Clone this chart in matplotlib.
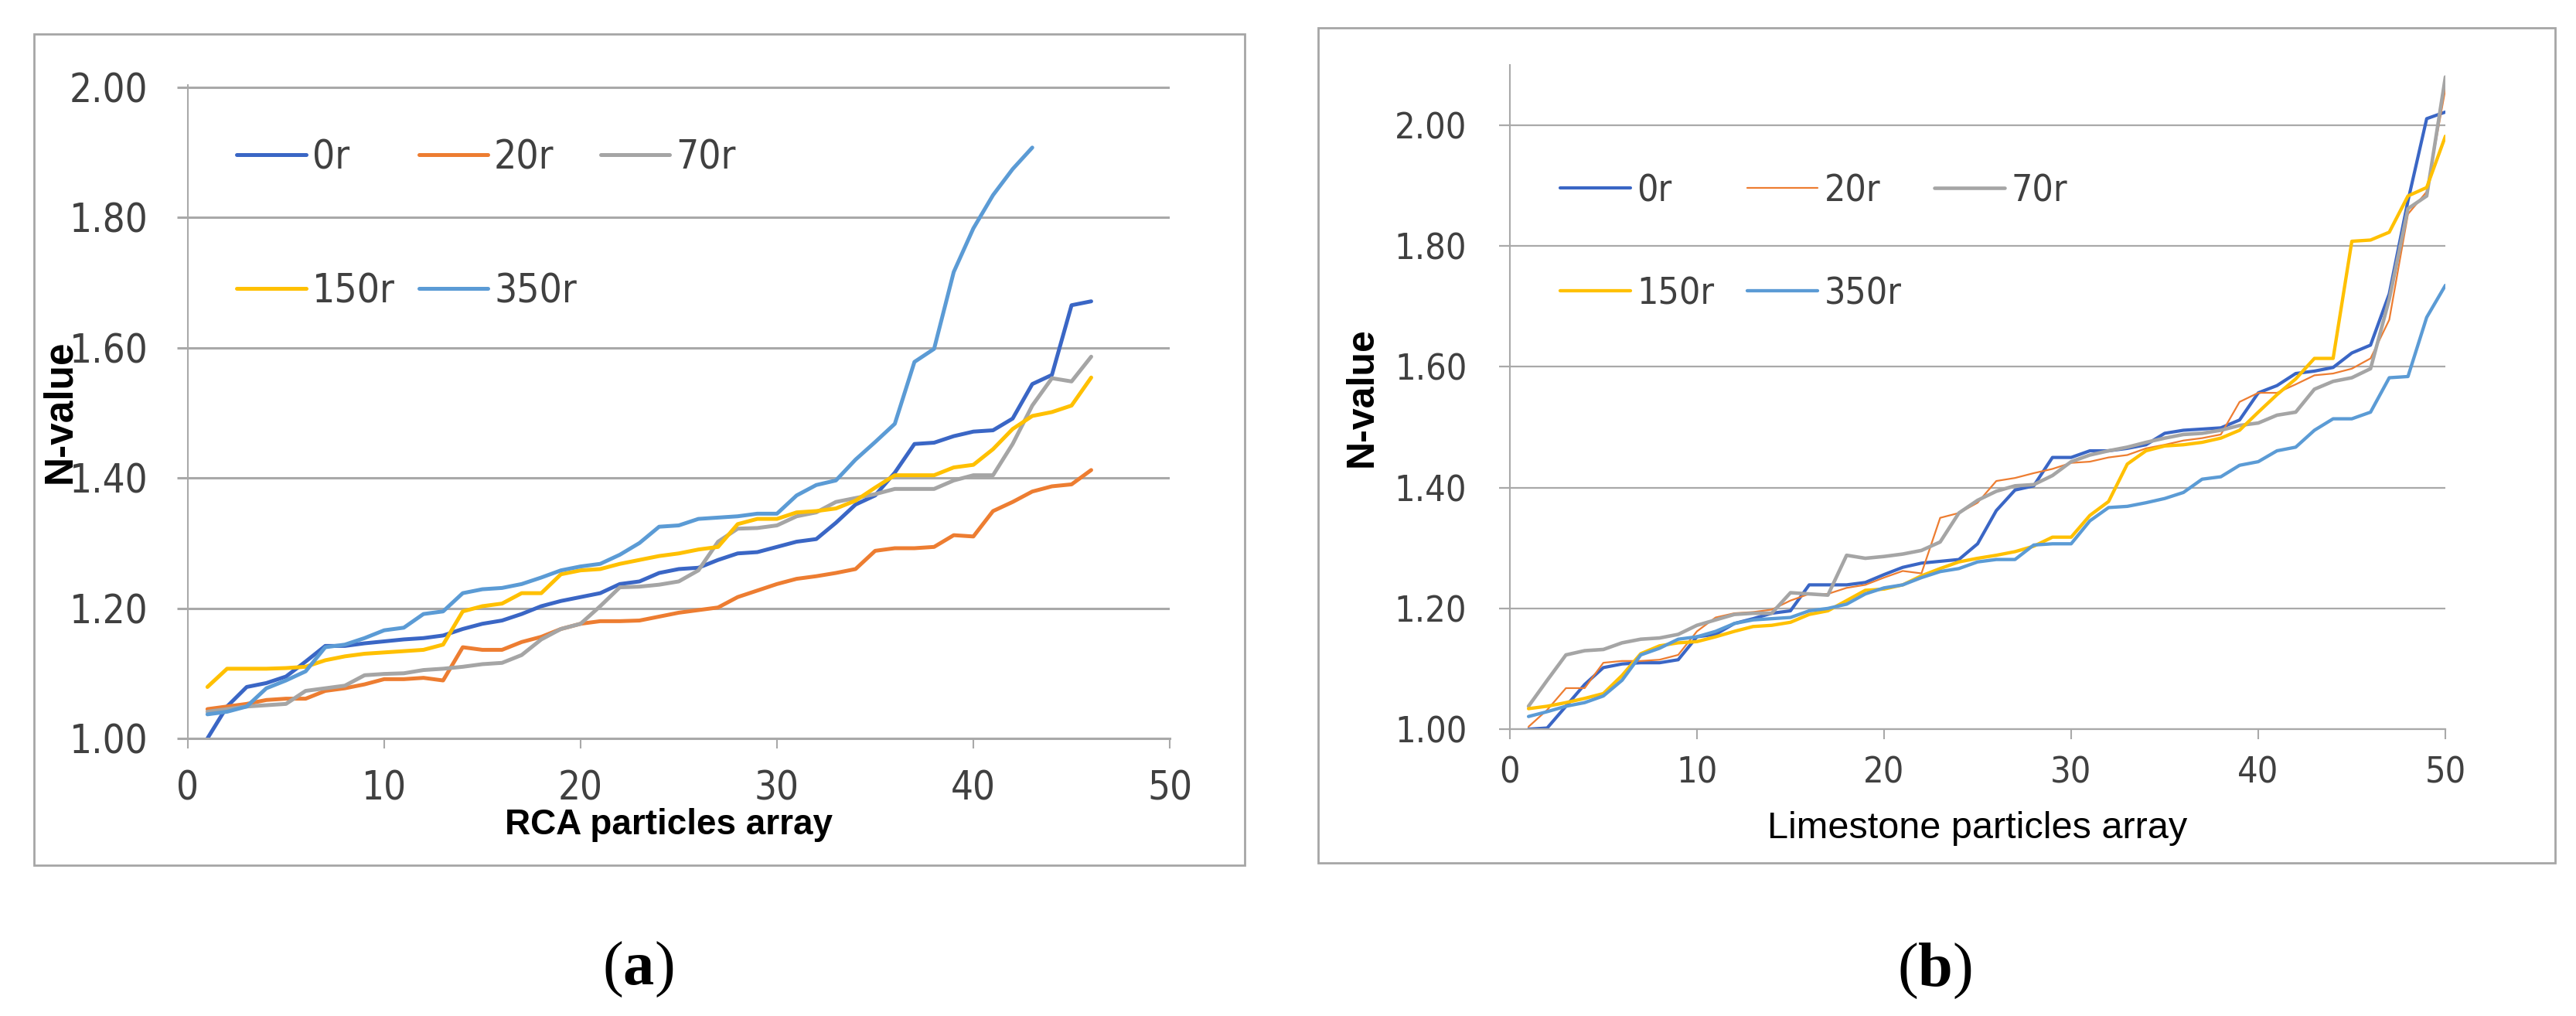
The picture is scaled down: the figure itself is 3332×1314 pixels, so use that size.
from pathlib import Path

import matplotlib as mpl
import matplotlib.pyplot as plt
from matplotlib import font_manager
from matplotlib.font_manager import FontProperties
from matplotlib.patches import Rectangle
from matplotlib.textpath import TextPath

mpl.use("Agg")

plt.rcParams["font.family"] = ["Liberation Sans", "DejaVu Sans"]
plt.rcParams["mathtext.fontset"] = "custom"
plt.rcParams["mathtext.rm"] = "Liberation Serif"
plt.rcParams["mathtext.bf"] = "Liberation Serif:bold"

series_labels = ["0r", "20r", "70r", "150r", "350r"]
series_colors = ["#3A66C5", "#ED7D31", "#A5A5A5", "#FFC000", "#5B9BD5"]

# (a) RCA particles
rca_x = list(range(1, 47))
rca_0r = [1.000, 1.049, 1.079, 1.085, 1.095, 1.118, 1.142, 1.142, 1.146, 1.149,
          1.152, 1.154, 1.158, 1.168, 1.176, 1.181, 1.191, 1.203, 1.211, 1.217,
          1.223, 1.237, 1.241, 1.254, 1.260, 1.262, 1.274, 1.284, 1.286, 1.294,
          1.302, 1.306, 1.331, 1.359, 1.373, 1.408, 1.452, 1.454, 1.464, 1.471,
          1.473, 1.491, 1.544, 1.558, 1.665, 1.671]
rca_20r = [1.045, 1.049, 1.053, 1.059, 1.061, 1.061, 1.073, 1.077, 1.083, 1.091,
           1.091, 1.093, 1.089, 1.140, 1.136, 1.136, 1.148, 1.156, 1.168, 1.176,
           1.180, 1.180, 1.181, 1.187, 1.193, 1.197, 1.201, 1.217, 1.227, 1.237,
           1.245, 1.249, 1.254, 1.260, 1.288, 1.292, 1.292, 1.294, 1.312, 1.310,
           1.349, 1.363, 1.379, 1.387, 1.390, 1.412]
rca_70r = [1.041, 1.045, 1.049, 1.051, 1.053, 1.073, 1.077, 1.081, 1.097, 1.099,
           1.100, 1.105, 1.107, 1.110, 1.114, 1.116, 1.128, 1.152, 1.168, 1.176,
           1.203, 1.232, 1.233, 1.236, 1.241, 1.258, 1.302, 1.322, 1.323, 1.327,
           1.341, 1.347, 1.363, 1.369, 1.375, 1.383, 1.383, 1.383, 1.396, 1.404,
           1.404, 1.452, 1.511, 1.553, 1.548, 1.586]
rca_150r = [1.079, 1.107, 1.107, 1.107, 1.108, 1.110, 1.120, 1.126, 1.130, 1.132,
            1.134, 1.136, 1.144, 1.195, 1.203, 1.207, 1.223, 1.223, 1.252, 1.258,
            1.260, 1.268, 1.274, 1.280, 1.284, 1.290, 1.294, 1.329, 1.337, 1.337,
            1.347, 1.349, 1.353, 1.365, 1.385, 1.404, 1.404, 1.404, 1.416, 1.420,
            1.444, 1.475, 1.495, 1.501, 1.511, 1.554]
rca_350r_x = list(range(1, 44))
rca_350r = [1.037, 1.041, 1.049, 1.077, 1.089, 1.103, 1.140, 1.144, 1.154, 1.166,
            1.170, 1.191, 1.195, 1.223, 1.229, 1.231, 1.237, 1.247, 1.258, 1.264,
            1.268, 1.282, 1.300, 1.325, 1.327, 1.337, 1.339, 1.341, 1.345, 1.345,
            1.373, 1.389, 1.396, 1.428, 1.455, 1.483, 1.578, 1.598, 1.716, 1.783,
            1.834, 1.874, 1.907]

# (b) Limestone particles
ls_x = list(range(1, 51))
ls_0r = [1.000, 1.002, 1.038, 1.074, 1.102, 1.108, 1.110, 1.110, 1.115, 1.153,
         1.157, 1.175, 1.183, 1.192, 1.196, 1.239, 1.239, 1.239, 1.243, 1.256,
         1.268, 1.275, 1.278, 1.281, 1.307, 1.362, 1.396, 1.403, 1.450, 1.450,
         1.461, 1.461, 1.465, 1.471, 1.490, 1.495, 1.497, 1.499, 1.512, 1.557,
         1.569, 1.589, 1.593, 1.599, 1.623, 1.636, 1.721, 1.875, 2.011, 2.022]
ls_20r = [1.004, 1.032, 1.068, 1.068, 1.110, 1.113, 1.113, 1.115, 1.123, 1.162,
          1.185, 1.192, 1.194, 1.198, 1.213, 1.224, 1.224, 1.234, 1.239, 1.251,
          1.262, 1.258, 1.350, 1.358, 1.375, 1.411, 1.416, 1.424, 1.431, 1.441,
          1.443, 1.450, 1.454, 1.465, 1.471, 1.478, 1.482, 1.488, 1.542, 1.557,
          1.557, 1.571, 1.586, 1.589, 1.597, 1.614, 1.678, 1.853, 1.890, 2.060]
ls_70r = [1.038, 1.081, 1.123, 1.130, 1.132, 1.143, 1.149, 1.151, 1.157, 1.172,
          1.181, 1.190, 1.192, 1.192, 1.226, 1.224, 1.222, 1.288, 1.283, 1.286,
          1.290, 1.296, 1.310, 1.358, 1.379, 1.394, 1.403, 1.405, 1.420, 1.443,
          1.454, 1.461, 1.467, 1.475, 1.482, 1.488, 1.490, 1.495, 1.503, 1.507,
          1.520, 1.525, 1.563, 1.576, 1.582, 1.597, 1.712, 1.862, 1.883, 2.080]
ls_150r = [1.034, 1.038, 1.044, 1.051, 1.059, 1.089, 1.125, 1.138, 1.143, 1.145,
           1.153, 1.162, 1.170, 1.172, 1.177, 1.190, 1.196, 1.213, 1.230, 1.232,
           1.239, 1.254, 1.266, 1.277, 1.283, 1.288, 1.294, 1.303, 1.318, 1.318,
           1.354, 1.377, 1.439, 1.461, 1.469, 1.471, 1.475, 1.482, 1.495, 1.525,
           1.554, 1.580, 1.614, 1.614, 1.808, 1.810, 1.823, 1.883, 1.897, 1.982]
ls_350r = [1.021, 1.029, 1.038, 1.044, 1.055, 1.081, 1.123, 1.134, 1.149, 1.153,
           1.162, 1.175, 1.181, 1.183, 1.185, 1.196, 1.200, 1.207, 1.224, 1.234,
           1.239, 1.251, 1.261, 1.266, 1.277, 1.281, 1.281, 1.305, 1.307, 1.307,
           1.345, 1.367, 1.369, 1.375, 1.382, 1.392, 1.414, 1.418, 1.437, 1.443,
           1.461, 1.467, 1.495, 1.514, 1.514, 1.525, 1.582, 1.584, 1.682, 1.735]

y_ticks = [1.0, 1.2, 1.4, 1.6, 1.8, 2.0]
x_ticks = [0, 10, 20, 30, 40, 50]

GRID = "#A9A9A9"
TEXT = "#404040"


def pick_narrow_font():
    # the original numbers are in a tall, narrow face; use a condensed one if present
    wanted = ["liberationsansnarrow-regular", "notosans-extracondensed.",
              "notosans-condensed.", "dejavusanscondensed.", "robotocondensed-regular"]
    paths = [f.fname for f in font_manager.fontManager.ttflist]
    for key in wanted:
        for p in paths:
            if Path(p).name.lower().startswith(key):
                return FontProperties(fname=p)
    return FontProperties(family="Liberation Sans")


def fit_size(prop, text, width_px, height_px):
    ext = TextPath((0, 0), text, size=10, prop=prop).get_extents()
    s_w = width_px / (ext.width * 100 / 72 / 10)
    s_h = height_px / (ext.height * 100 / 72 / 10)
    return (s_w * s_h) ** 0.5


def sized(prop, size):
    p = prop.copy()
    p.set_size(size)
    return p


NARROW = pick_narrow_font()


def draw_panel(ax, xs, ys, widths, ylim_top, tick_prop, legend_prop, grid_lw,
               ytick_pad, xtick_pad, legend_kw):
    lines = []
    for x, y, lab, col, lw in zip(xs, ys, series_labels, series_colors, widths):
        (ln,) = ax.plot(x, y, color=col, lw=lw, label=lab,
                        solid_capstyle="round", solid_joinstyle="round")
        lines.append(ln)

    ax.set_xlim(0, 50)
    ax.set_ylim(1.0, ylim_top)
    ax.set_xticks(x_ticks)
    ax.set_yticks(y_ticks)
    ax.set_yticklabels([f"{v:.2f}" for v in y_ticks])
    ax.grid(axis="y", color=GRID, lw=grid_lw)
    ax.set_axisbelow(True)
    for side in ["top", "right"]:
        ax.spines[side].set_visible(False)
    ax.spines["bottom"].set_color(GRID)
    ax.spines["bottom"].set_linewidth(grid_lw)
    ax.spines["left"].set_color(GRID)
    ax.spines["left"].set_linewidth(1.5)
    ax.tick_params(axis="y", direction="out", length=10, width=grid_lw,
                   color=GRID, labelcolor=TEXT, pad=ytick_pad)
    ax.tick_params(axis="x", direction="out", length=9, width=1.5,
                   color=GRID, labelcolor=TEXT, pad=xtick_pad)
    for lab in ax.get_xticklabels() + ax.get_yticklabels():
        lab.set_fontproperties(tick_prop)

    # Excel fills the legend row by row, matplotlib column by column
    order = [0, 3, 1, 4, 2]
    ax.legend([lines[i] for i in order], [series_labels[i] for i in order],
              ncol=3, loc="upper left", frameon=False, prop=legend_prop,
              labelcolor=TEXT, borderpad=0, borderaxespad=0, **legend_kw)
    return lines


fig = plt.figure(figsize=(33.32, 13.14), dpi=100)

# panel frames
fig.patches.append(Rectangle((44 / 3332, 1 - 1119 / 1314), (1610 - 44) / 3332,
                             (1119 - 44) / 1314, transform=fig.transFigure,
                             fill=False, edgecolor="#A6A6A6", lw=2))
fig.patches.append(Rectangle((1705 / 3332, 1 - 1116 / 1314), (3305 - 1705) / 3332,
                             (1116 - 36) / 1314, transform=fig.transFigure,
                             fill=False, edgecolor="#A6A6A6", lw=2))

tick_a = sized(NARROW, fit_size(NARROW, "2.00", 85, 43))
leg_a = sized(NARROW, fit_size(NARROW, "150r", 88, 45))
tick_b = sized(NARROW, fit_size(NARROW, "2.00", 88, 35))
leg_b = sized(NARROW, fit_size(NARROW, "150r", 93, 37))

ax_a = fig.add_axes([0.0729, 0.2732, 0.3812, 0.6431])
draw_panel(
    ax_a,
    [rca_x, rca_x, rca_x, rca_x, rca_350r_x],
    [rca_0r, rca_20r, rca_70r, rca_150r, rca_350r],
    [3.6, 3.6, 3.6, 3.6, 3.6],
    2.003, tick_a, leg_a, 2.2, 27, 20,
    dict(bbox_to_anchor=(0.05, 0.918), handlelength=1.75, handletextpad=0.15,
         columnspacing=0.6, labelspacing=2.4),
)
ax_a.set_xlabel("RCA particles array", fontsize=33, fontweight="bold",
                family="Liberation Sans", va="center")
ax_a.xaxis.set_label_coords(0.49, -0.1325)
ax_a.set_ylabel("N-value", fontsize=37, fontweight="bold",
                family="Liberation Sans", va="center")
ax_a.yaxis.set_label_coords(-0.130, 0.5)

ax_b = fig.add_axes([0.5861, 0.2823, 0.3632, 0.6538])
draw_panel(
    ax_b,
    [ls_x] * 5,
    [ls_0r, ls_20r, ls_70r, ls_150r, ls_350r],
    [3.0, 1.6, 3.3, 3.1, 3.1],
    2.1, tick_b, leg_b, 1.6, 30, 16,
    dict(bbox_to_anchor=(0.054, 0.838), handlelength=1.9, handletextpad=0.17,
         columnspacing=0.9, labelspacing=1.8),
)
ax_b.set_xlabel("Limestone particles array", fontsize=35,
                family="Liberation Sans", va="center")
ax_b.xaxis.set_label_coords(0.5, -0.149)
ax_b.set_ylabel("N-value", fontsize=36, fontweight="bold",
                family="Liberation Sans", va="center")
ax_b.yaxis.set_label_coords(-0.158, 0.5)

fig.text(825 / 3332, 1 - 1254 / 1314, r"($\mathbf{a}$)", fontsize=58,
         family="Liberation Serif", ha="center", va="center")
fig.text(2502 / 3332, 1 - 1256 / 1314, r"($\mathbf{b}$)", fontsize=58,
         family="Liberation Serif", ha="center", va="center")

fig.savefig("out.png", dpi=100, facecolor="white")
plt.close(fig)
